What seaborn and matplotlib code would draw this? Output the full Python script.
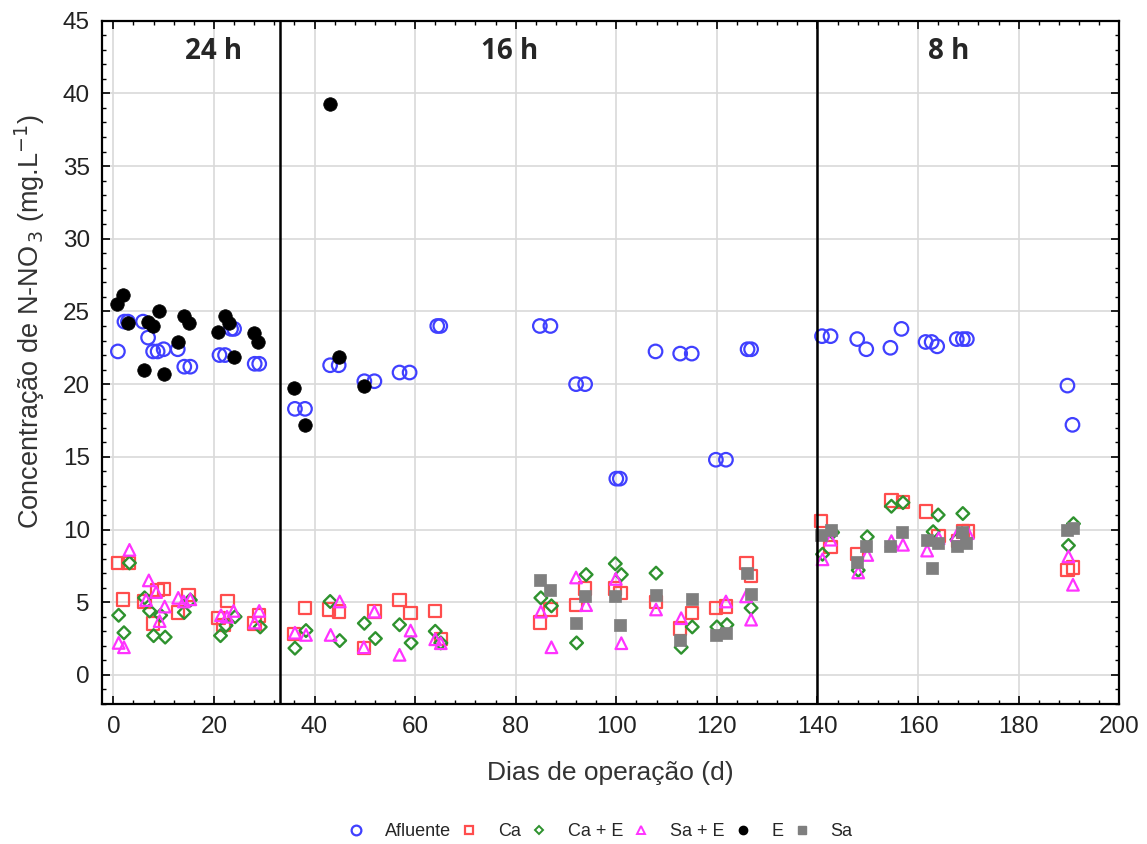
import matplotlib
matplotlib.use("Agg")
import matplotlib.pyplot as plt
import seaborn as sns
import pandas as pd
from matplotlib.ticker import MultipleLocator
from matplotlib.lines import Line2D

# ---- data ----
afl_d = [0.9, 2.2, 2.9, 5.9, 6.9, 7.9, 8.8, 10.0, 12.8, 14.1, 15.3, 21.1, 22.2, 23.4, 24.0, 28.1, 29.0,
         36.1, 38.1, 43.1, 44.8, 49.9, 51.9, 56.9, 58.9, 64.4, 65.0, 84.8, 86.9, 92.0, 93.8, 100.0, 100.7,
         107.8, 112.7, 115.0, 119.8, 121.8, 126.1, 126.8, 140.9, 142.6, 147.9, 149.7, 154.5, 156.7, 161.5,
         162.7, 163.8, 167.7, 168.9, 169.7, 189.7, 190.7]
afl_v = [22.25, 24.3, 24.3, 24.3, 23.2, 22.25, 22.25, 22.4, 22.4, 21.2, 21.2, 22.0, 22.0, 23.8, 23.8, 21.4, 21.4,
         18.3, 18.3, 21.3, 21.3, 20.2, 20.2, 20.8, 20.8, 24.0, 24.0, 24.0, 24.0, 20.0, 20.0, 13.5, 13.5,
         22.25, 22.1, 22.1, 14.8, 14.8, 22.4, 22.4, 23.3, 23.3, 23.1, 22.4, 22.5, 23.8, 22.9,
         22.9, 22.6, 23.1, 23.1, 23.1, 19.9, 17.2]

e_d = [0.8, 1.9, 2.9, 6.1, 6.9, 7.8, 9.0, 10.0, 12.8, 14.0, 15.1, 20.9, 22.1, 22.9, 23.9, 28.0, 28.8,
       35.9, 38.1, 43.0, 44.9, 49.8]
e_v = [25.5, 26.1, 24.2, 21.0, 24.3, 24.0, 25.0, 20.7, 22.9, 24.7, 24.2, 23.6, 24.7, 24.2, 21.9, 23.5, 22.9,
       19.7, 17.2, 39.3, 21.9, 19.9]

ca_d = [0.9, 1.9, 3.0, 6.2, 7.85, 8.8, 10.1, 12.8, 14.9, 20.9, 21.9, 22.7, 28.1, 29.0, 35.9, 38.1, 42.9, 44.9,
        49.8, 51.9, 56.9, 59.1, 63.9, 65.1, 84.8, 86.9, 92.0, 93.8, 99.7, 100.8, 107.9, 112.7, 115.0, 119.8,
        121.8, 125.9, 126.8, 140.7, 142.6, 147.9, 154.7, 157.0, 161.6, 164.1, 167.9, 168.9, 169.9, 189.7, 190.8]
ca_v = [7.7, 5.2, 7.7, 5.05, 3.55, 5.85, 5.9, 4.3, 5.5, 3.9, 3.45, 5.1, 3.55, 4.1, 2.8, 4.6, 4.5, 4.35,
        1.84, 4.35, 5.15, 4.25, 4.4, 2.45, 3.6, 4.5, 4.8, 5.95, 5.95, 5.65, 5.0, 3.2, 4.25, 4.6,
        4.7, 7.7, 6.8, 10.6, 8.8, 8.3, 12.0, 11.9, 11.25, 9.55, 9.2, 9.85, 9.85, 7.2, 7.4]

cae_d = [1.05, 2.1, 3.2, 6.2, 7.2, 8.0, 9.4, 10.3, 14.1, 15.3, 21.3, 22.4, 24.2, 29.2, 36.1, 38.3, 43.1, 45.0,
         49.9, 52.1, 56.9, 59.2, 64.0, 65.1, 85.0, 87.1, 92.1, 94.0, 99.8, 101.0, 107.9, 112.9, 115.1, 120.0,
         122.0, 126.8, 141.0, 143.0, 148.1, 149.9, 154.7, 157.0, 163.0, 164.0, 167.7, 168.9, 189.9, 190.9]
cae_v = [4.1, 2.9, 7.7, 5.3, 4.4, 2.7, 4.1, 2.6, 4.3, 5.15, 2.7, 3.4, 4.0, 3.3, 1.84, 3.05, 5.05, 2.36,
         3.55, 2.5, 3.45, 2.2, 3.0, 2.2, 5.3, 4.75, 2.2, 6.9, 7.65, 6.9, 7.0, 1.9, 3.3, 3.3,
         3.45, 4.6, 8.3, 9.8, 7.2, 9.5, 11.6, 11.85, 9.85, 11.0, 9.3, 11.1, 8.9, 10.4]

sae_d = [1.05, 2.1, 3.2, 6.5, 7.05, 8.5, 9.2, 10.2, 12.9, 14.0, 15.3, 21.4, 22.6, 23.9, 28.1, 29.0, 36.1, 38.3,
         43.2, 45.0, 49.8, 51.9, 56.9, 59.1, 64.0, 65.1, 85.0, 87.1, 92.0, 94.0, 99.9, 101.0, 107.9, 112.9,
         121.8, 125.8, 126.8, 141.0, 142.6, 148.1, 149.9, 154.7, 157.0, 161.8, 164.1, 167.7, 169.9, 189.9, 190.8]
sae_v = [2.2, 1.9, 8.6, 5.15, 6.5, 5.7, 3.7, 4.7, 5.3, 5.05, 5.2, 4.1, 4.0, 4.4, 3.6, 4.4, 2.9, 2.75,
         2.75, 5.05, 1.9, 4.35, 1.38, 3.05, 2.45, 2.18, 4.35, 1.9, 6.7, 4.8, 6.6, 2.18, 4.5, 3.9,
         5.05, 5.4, 3.8, 7.95, 9.3, 7.05, 8.25, 9.2, 8.95, 8.55, 9.4, 9.6, 9.75, 8.15, 6.2]

sa_d = [84.8, 86.9, 92.0, 93.8, 99.7, 100.8, 107.9, 112.7, 115.0, 119.8, 121.8, 125.9, 126.8, 140.7, 142.6,
        147.9, 149.7, 154.5, 156.8, 161.8, 162.8, 164.0, 167.7, 168.7, 169.6, 189.7, 190.8]
sa_v = [6.55, 5.85, 3.6, 5.4, 5.45, 3.45, 5.5, 2.4, 5.2, 2.75, 2.87, 7.0, 5.57, 9.6, 9.95,
        7.75, 8.9, 8.9, 9.8, 9.3, 7.35, 9.05, 8.85, 9.85, 9.05, 10.0, 10.1]

phase_bounds = [33.1, 139.9]
phase_labels = ["24 h", "16 h", "8 h"]
phase_label_x = [20.0, 78.8, 166.0]

# ---- styling ----
sns.set_theme(style="white")
plt.rcParams['font.family'] = ['Liberation Sans', 'DejaVu Sans']

series = [
    ("Afluente", afl_d, afl_v, dict(marker="o", facecolors="none", edgecolors="#4040ff", s=95, linewidths=1.6)),
    ("Ca", ca_d, ca_v, dict(marker="s", facecolors="none", edgecolors="#ff4d4d", s=80, linewidths=1.6)),
    ("Ca + E", cae_d, cae_v, dict(marker="D", facecolors="none", edgecolors="#2e922e", s=42, linewidths=1.7)),
    ("Sa + E", sae_d, sae_v, dict(marker="^", facecolors="none", edgecolors="#ff33ff", s=70, linewidths=1.6)),
    ("E", e_d, e_v, dict(marker="o", color="black", edgecolors="black", s=95, linewidths=0.5)),
    ("Sa", sa_d, sa_v, dict(marker="s", color="#7f7f7f", edgecolors="#7f7f7f", s=85, linewidths=0.5)),
]

fig = plt.figure(figsize=(11.47, 8.44), dpi=100)
ax = fig.add_axes([0.0892, 0.1659, 0.9758 - 0.0892, 0.9755 - 0.1659])

ax.set_axisbelow(True)
ax.grid(True, color="#d9d9d9", linewidth=1.2)

for z, (name, d, v, kw) in enumerate(series):
    df = pd.DataFrame({"d": d, "v": v})
    sns.scatterplot(data=df, x="d", y="v", ax=ax, zorder=3 + z, legend=False, **kw)

for b in phase_bounds:
    ax.axvline(b, color="black", linewidth=1.8, zorder=10)
for lbl, lx in zip(phase_labels, phase_label_x):
    ax.text(lx, 42.9, lbl, ha="center", va="center", fontsize=20, fontweight="bold",
            family=["Open Sans", "DejaVu Sans"], zorder=11)

ax.set_xlim(-2.2, 200)
ax.set_ylim(-2, 45)
ax.xaxis.set_major_locator(MultipleLocator(20))
ax.xaxis.set_minor_locator(MultipleLocator(4))
ax.yaxis.set_major_locator(MultipleLocator(5))
ax.yaxis.set_minor_locator(MultipleLocator(1))
ax.tick_params(which="both", direction="in", top=True, right=True, bottom=True, left=True, colors="black",
               labelcolor="#222222")
ax.tick_params(which="major", length=6, width=1.2, labelsize=17.5, pad=9)
ax.tick_params(which="minor", length=3, width=1.0)
for sp in ax.spines.values():
    sp.set_color("black")
    sp.set_linewidth(1.6)

ax.set_xlabel("Dias de operação (d)", fontsize=19, color="#333333", labelpad=16)
ax.set_ylabel(r"Concentração de N-NO$_{\,3}$ (mg.L$^{-1}$)", fontsize=19.5, color="#333333")
ax.yaxis.set_label_coords(-0.054, 0.56)

handles = [
    Line2D([], [], linestyle="none", marker="o", markerfacecolor="none", markeredgecolor="#4040ff", markersize=7, markeredgewidth=1.6),
    Line2D([], [], linestyle="none", marker="s", markerfacecolor="none", markeredgecolor="#ff4d4d", markersize=6, markeredgewidth=1.6),
    Line2D([], [], linestyle="none", marker="D", markerfacecolor="none", markeredgecolor="#2e922e", markersize=4.5, markeredgewidth=1.4),
    Line2D([], [], linestyle="none", marker="^", markerfacecolor="none", markeredgecolor="#ff33ff", markersize=5.5, markeredgewidth=1.4),
    Line2D([], [], linestyle="none", marker="o", color="black", markersize=6),
    Line2D([], [], linestyle="none", marker="s", color="#7f7f7f", markersize=5.5),
]
fig.legend(handles, [s[0] for s in series], loc="center", bbox_to_anchor=(0.523, 0.015), ncol=6,
           frameon=False, fontsize=13, handlelength=1.0, handletextpad=1.1, columnspacing=0.5)

fig.savefig("out.png", dpi=100)
